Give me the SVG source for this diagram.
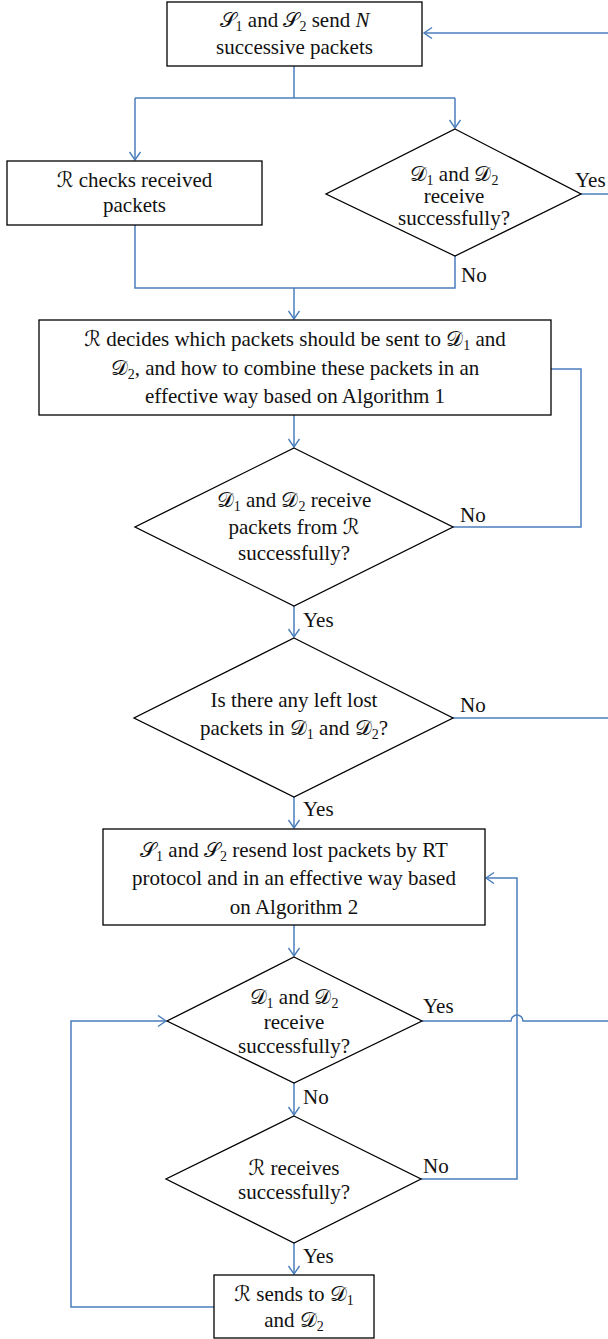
<svg xmlns="http://www.w3.org/2000/svg" width="608" height="1339" viewBox="0 0 608 1339">
<style>
.node{fill:#fff;stroke:#000;stroke-width:1.3}
.t{font-family:'Liberation Serif','DejaVu Serif','DejaVu Sans',serif;font-size:21px;fill:#111;text-anchor:middle}
.l{font-family:'Liberation Serif','DejaVu Serif',serif;font-size:21px;fill:#111}
.c{fill:none;stroke:#4A7EBB;stroke-width:1.5}
.sub{font-size:14px}
</style>
<defs>
<marker id="ah" markerWidth="12" markerHeight="14" refX="9" refY="6" orient="auto" markerUnits="userSpaceOnUse">
<path d="M1,0.5 L9,6 L1,11.5" fill="none" stroke="#4A7EBB" stroke-width="1.4"/>
</marker>
</defs>
<g id="connectors">
<path class="c" d="M608,33 H424" marker-end="url(#ah)"/>
<path class="c" d="M294,66 V98"/>
<path class="c" d="M135,98 H455"/>
<path class="c" d="M135,98 V160" marker-end="url(#ah)"/>
<path class="c" d="M455,98 V128" marker-end="url(#ah)"/>
<path class="c" d="M581,194 H608"/>
<path class="c" d="M135,225 V288 H455 V256"/>
<path class="c" d="M294,288 V319" marker-end="url(#ah)"/>
<path class="c" d="M551,369 H581 V527 H453"/>
<path class="c" d="M294,415 V447" marker-end="url(#ah)"/>
<path class="c" d="M294,606 V637" marker-end="url(#ah)"/>
<path class="c" d="M453,718 H608"/>
<path class="c" d="M294,797 V828" marker-end="url(#ah)"/>
<path class="c" d="M294,925 V956" marker-end="url(#ah)"/>
<path class="c" d="M422,1021 H511 A6,6 0 0 1 523,1021 H608"/>
<path class="c" d="M294,1083 V1115" marker-end="url(#ah)"/>
<path class="c" d="M421,1179 H517 V878 H486" marker-end="url(#ah)"/>
<path class="c" d="M294,1243 V1274" marker-end="url(#ah)"/>
<path class="c" d="M214,1307 H71 V1021 H166" marker-end="url(#ah)"/>
</g>
<g id="labels">
<text class="l" x="575" y="187">Yes</text>
<text class="l" x="461" y="282">No</text>
<text class="l" x="460" y="522">No</text>
<text class="l" x="303" y="627">Yes</text>
<text class="l" x="460" y="712">No</text>
<text class="l" x="303" y="816">Yes</text>
<text class="l" x="423" y="1013">Yes</text>
<text class="l" x="303" y="1104">No</text>
<text class="l" x="423" y="1173">No</text>
<text class="l" x="303" y="1263">Yes</text>
</g>
<g id="n1">
<rect class="node" x="167" y="2" width="255" height="64"/>
<text class="t" x="294.5" y="27">𝒮<tspan class="sub" dy="4">1</tspan><tspan dy="-4"> and 𝒮</tspan><tspan class="sub" dy="4">2</tspan><tspan dy="-4"> send </tspan><tspan font-style="italic">N</tspan></text>
<text class="t" x="294.5" y="54">successive packets</text>
</g>
<g id="n2">
<rect class="node" x="7" y="161" width="255" height="64"/>
<text class="t" x="134.5" y="187">ℛ checks received</text>
<text class="t" x="134.5" y="212">packets</text>
</g>
<g id="n3">
<polygon class="node" points="455,129 581,194 455,256 326,194"/>
<text class="t" x="454" y="181">𝒟<tspan class="sub" dy="4">1</tspan><tspan dy="-4"> and 𝒟</tspan><tspan class="sub" dy="4">2</tspan></text>
<text class="t" x="454" y="203">receive</text>
<text class="t" x="454" y="225">successfully?</text>
</g>
<g id="n4">
<rect class="node" x="39" y="320" width="512" height="95"/>
<text class="t" x="295" y="346">ℛ decides which packets should be sent to 𝒟<tspan class="sub" dy="4">1</tspan><tspan dy="-4"> and</tspan></text>
<text class="t" x="295" y="375">𝒟<tspan class="sub" dy="4">2</tspan><tspan dy="-4">, and how to combine these packets in an</tspan></text>
<text class="t" x="295" y="403">effective way based on Algorithm 1</text>
</g>
<g id="n5">
<polygon class="node" points="294,448 453,527 294,606 135,527"/>
<text class="t" x="294" y="507">𝒟<tspan class="sub" dy="4">1</tspan><tspan dy="-4"> and 𝒟</tspan><tspan class="sub" dy="4">2</tspan><tspan dy="-4"> receive</tspan></text>
<text class="t" x="294" y="534">packets from ℛ</text>
<text class="t" x="294" y="560">successfully?</text>
</g>
<g id="n6">
<polygon class="node" points="294,638 453,718 294,797 134,718"/>
<text class="t" x="294" y="707">Is there any left lost</text>
<text class="t" x="294" y="735">packets in 𝒟<tspan class="sub" dy="4">1</tspan><tspan dy="-4"> and 𝒟</tspan><tspan class="sub" dy="4">2</tspan><tspan dy="-4">?</tspan></text>
</g>
<g id="n7">
<rect class="node" x="103" y="829" width="382" height="96"/>
<text class="t" x="294" y="857">𝒮<tspan class="sub" dy="4">1</tspan><tspan dy="-4"> and 𝒮</tspan><tspan class="sub" dy="4">2</tspan><tspan dy="-4"> resend lost packets by RT</tspan></text>
<text class="t" x="294" y="885">protocol and in an effective way based</text>
<text class="t" x="294" y="914">on Algorithm 2</text>
</g>
<g id="n8">
<polygon class="node" points="294,957 422,1021 294,1083 167,1021"/>
<text class="t" x="294" y="1004">𝒟<tspan class="sub" dy="4">1</tspan><tspan dy="-4"> and 𝒟</tspan><tspan class="sub" dy="4">2</tspan></text>
<text class="t" x="294" y="1029">receive</text>
<text class="t" x="294" y="1053">successfully?</text>
</g>
<g id="n9">
<polygon class="node" points="294,1116 421,1179 294,1243 166,1179"/>
<text class="t" x="294" y="1175">ℛ receives</text>
<text class="t" x="294" y="1199">successfully?</text>
</g>
<g id="n10">
<rect class="node" x="214" y="1275" width="160" height="63"/>
<text class="t" x="294" y="1301">ℛ sends to 𝒟<tspan class="sub" dy="4">1</tspan></text>
<text class="t" x="294" y="1327">and 𝒟<tspan class="sub" dy="4">2</tspan></text>
</g>
</svg>
